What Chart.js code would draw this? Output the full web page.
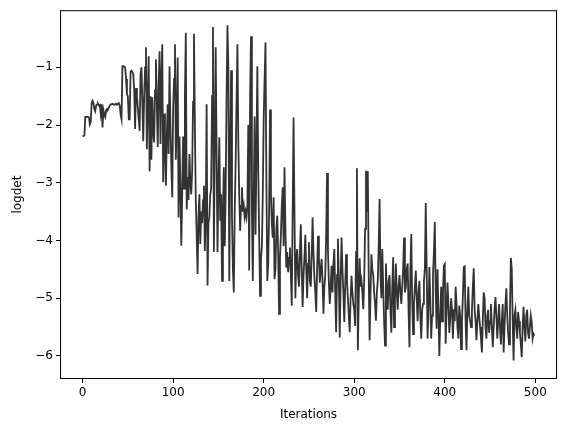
<!DOCTYPE html>
<html>
<head>
<meta charset="utf-8">
<script src="https://cdn.jsdelivr.net/npm/chart.js@4.4.1/dist/chart.umd.min.js"></script>
<style>
  html, body { margin: 0; padding: 0; background: #fff; }
  #wrap { width: 565px; height: 432px; }
</style>
</head>
<body>
<div id="wrap"><canvas id="chart" width="565" height="432"></canvas></div>
<script>
// logdet per iteration
const logdet = [
  -2.20,-2.19,-2.18,-1.86,-1.86,-1.86,-1.86,-1.87,-1.99,-1.95,
  -1.62,-1.58,-1.62,-1.72,-1.76,-1.66,-1.64,-1.63,-1.66,-1.65,
  -1.80,-1.64,-2.04,-1.74,-1.82,-1.86,-1.74,-1.72,-1.73,-1.70,
  -1.66,-1.64,-1.64,-1.63,-1.64,-1.65,-1.64,-1.63,-1.64,-1.63,
  -1.62,-1.66,-1.82,-1.90,-0.98,-0.98,-0.99,-1.00,-1.20,-1.47,
  -1.50,-1.90,-1.90,-1.07,-1.06,-1.08,-1.12,-1.40,-2.07,-1.36,
  -1.50,-1.70,-1.90,-2.10,-1.12,-1.00,-1.60,-2.28,-1.50,-1.00,
  -0.65,-2.42,-1.60,-0.81,-2.80,-1.50,-2.60,-1.52,-2.10,-2.30,
  -1.40,-0.86,-1.64,-2.38,-1.30,-0.72,-2.33,-1.20,-0.60,-2.99,
  -1.80,-2.40,-3.05,-2.20,-1.64,-2.50,-0.98,-2.00,-2.70,-3.25,
  -1.70,-1.20,-0.60,-2.60,-1.90,-0.83,-3.60,-2.20,-3.00,-4.09,
  -3.20,-2.20,-3.10,-1.50,-0.40,-3.46,-2.90,-3.30,-2.50,-3.00,
  -3.20,-2.80,-1.60,-0.42,-2.00,-3.30,-3.90,-4.58,-3.60,-3.20,
  -4.06,-3.50,-3.70,-3.30,-3.05,-4.18,-3.60,-1.64,-4.78,-3.70,
  -3.60,-3.20,-3.10,-1.50,-0.30,-4.20,-2.40,-0.65,-2.50,-4.20,
  -3.00,-2.21,-3.66,-3.20,-4.70,-3.50,-2.73,-4.10,-3.20,-1.50,
  -0.27,-1.00,-4.70,-2.50,-1.05,-3.60,-4.50,-4.90,-3.50,-2.68,
  -1.60,-0.60,-2.30,-3.20,-3.83,-3.40,-3.08,-3.50,-3.40,-3.60,
  -3.50,-3.60,-3.40,-2.00,-4.52,-1.50,-0.46,-3.50,-4.70,-3.20,
  -1.85,-3.90,-2.50,-0.98,-2.80,-3.90,-4.96,-4.30,-4.12,-3.20,
  -1.90,-1.20,-0.57,-3.00,-4.70,-4.40,-3.50,-1.73,-3.20,-3.70,
  -3.95,-3.25,-4.67,-4.50,-3.80,-3.57,-4.20,-5.27,-4.30,-3.90,
  -3.40,-3.08,-4.10,-2.73,-3.80,-4.47,-4.20,-4.55,-4.30,-4.12,
  -4.60,-5.13,-3.50,-1.87,-3.50,-5.00,-4.30,-4.15,-4.60,-4.80,
  -4.20,-3.72,-4.50,-5.15,-4.60,-4.30,-3.90,-4.50,-5.00,-4.40,
  -4.03,-4.70,-4.80,-4.30,-3.60,-4.20,-4.63,-4.90,-5.24,-4.50,
  -3.92,-4.30,-4.73,-4.50,-4.32,-4.70,-5.27,-4.80,-4.60,-3.90,
  -2.83,-4.20,-4.73,-5.10,-4.80,-4.44,-4.90,-4.40,-4.15,-4.90,
  -5.59,-4.60,-3.97,-4.70,-5.68,-4.70,-3.95,-4.50,-4.90,-5.41,
  -4.80,-4.24,-4.70,-5.00,-5.30,-5.59,-5.00,-4.61,-4.90,-5.10,
  -5.20,-5.48,-4.20,-2.75,-5.90,-5.00,-4.31,-4.80,-4.70,-4.90,
  -5.19,-4.70,-3.80,-2.79,-3.50,-2.80,-4.60,-5.73,-4.90,-4.24,
  -4.50,-4.60,-4.90,-5.10,-5.39,-4.90,-4.70,-4.10,-3.28,-4.60,
  -5.00,-4.15,-4.80,-5.40,-5.82,-4.40,-4.90,-5.20,-4.70,-4.60,
  -5.20,-5.60,-4.80,-4.29,-5.50,-5.00,-4.40,-4.90,-5.20,-4.80,
  -4.60,-4.90,-5.10,-4.80,-4.50,-3.95,-4.90,-4.80,-4.50,-4.40,
  -5.20,-5.85,-4.50,-3.89,-5.00,-5.62,-5.10,-4.80,-4.52,-5.00,
  -5.40,-4.90,-4.70,-5.30,-5.70,-5.20,-5.10,-4.70,-4.50,-3.35,
  -4.50,-5.70,-5.20,-4.46,-5.00,-5.70,-5.30,-4.60,-4.20,-3.68,
  -4.90,-5.53,-4.50,-5.20,-6.00,-5.36,-4.80,-5.40,-4.90,-4.44,
  -4.41,-5.79,-5.20,-4.73,-5.10,-5.60,-5.36,-5.00,-5.20,-5.70,
  -5.19,-5.40,-4.80,-5.10,-5.50,-5.70,-5.13,-5.30,-5.88,-5.40,
  -4.96,-4.46,-4.45,-5.40,-5.90,-5.20,-4.80,-5.30,-5.40,-5.50,
  -5.20,-4.80,-4.48,-5.20,-5.40,-5.73,-5.40,-5.10,-5.30,-5.50,
  -5.70,-5.94,-5.40,-4.90,-5.00,-5.50,-5.70,-5.30,-5.20,-5.60,
  -5.40,-5.10,-5.50,-5.85,-5.50,-5.20,-4.98,-5.30,-5.70,-5.40,
  -5.10,-5.50,-5.80,-5.40,-5.10,-5.94,-5.50,-5.10,-4.83,-5.30,
  -5.60,-5.80,-5.20,-4.30,-4.50,-5.40,-6.08,-5.30,-5.20,-5.50,
  -5.70,-5.24,-5.40,-5.60,-5.80,-6.02,-5.50,-5.15,-5.50,-5.75,
  -5.30,-5.20,-5.60,-5.70,-5.50,-5.30,-5.41,-5.70,-5.62,-5.65
];

const xTicks = [0, 100, 200, 300, 400, 500];
const yTicks = [-6, -5, -4, -3, -2, -1];

const FONT = { family: 'DejaVu Sans', size: 12 };
const minus = v => String(v).replace('-', '\u2212');

// all four spines like matplotlib
const frame = {
    id: 'frame',
    afterDraw(chart) {
        const { ctx, chartArea: a } = chart;
        ctx.save();
        ctx.strokeStyle = '#000';
        ctx.lineWidth = 1;
        ctx.strokeRect(a.left + 0.5, a.top + 0.5, a.right - a.left - 1, a.bottom - a.top - 1);
        ctx.restore();
    }
};

new Chart(document.getElementById('chart'), {
    type: 'line',
    data: {
        datasets: [{
            data: logdet.map((v, i) => ({ x: i, y: v })),
            borderColor: '#333333',
            borderWidth: 1.8,
            pointRadius: 0,
            tension: 0,
            fill: false
        }]
    },
    options: {
        responsive: false,
        animation: false,
        events: [],
        layout: { padding: { top: 9, right: 8, left: 0, bottom: 0 } },
        plugins: { legend: { display: false }, tooltip: { enabled: false } },
        scales: {
            x: {
                type: 'linear',
                min: -24.95,
                max: 523.95,
                afterBuildTicks: s => { s.ticks = xTicks.map(v => ({ value: v })); },
                afterFit: s => { s.height = 53; },
                grid: { drawOnChartArea: false, color: '#000', tickLength: 4 },
                border: { display: false },
                ticks: { color: '#000', font: FONT, padding: 3, maxRotation: 0, callback: minus },
                title: { display: true, text: 'Iterations', color: '#000', font: FONT, padding: { top: 4, bottom: 10 } }
            },
            y: {
                type: 'linear',
                min: -6.4,
                max: -0.01,
                afterBuildTicks: s => { s.ticks = yTicks.map(v => ({ value: v })); },
                afterFit: s => { s.width = 60; },
                grid: { drawOnChartArea: false, color: '#000', tickLength: 4 },
                border: { display: false },
                ticks: { color: '#000', font: FONT, padding: 3, callback: minus },
                title: { display: true, text: 'logdet', color: '#000', font: FONT, padding: { top: 11, bottom: 4 } }
            }
        }
    },
    plugins: [frame]
});
</script>
</body>
</html>
